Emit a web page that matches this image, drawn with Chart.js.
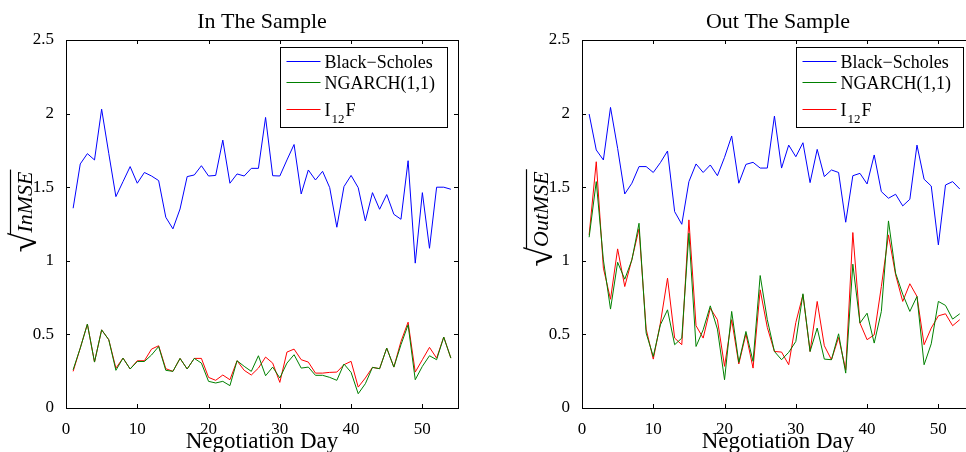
<!DOCTYPE html>
<html>
<head>
<meta charset="utf-8">
<script src="https://cdn.jsdelivr.net/npm/chart.js@4.4.1/dist/chart.umd.min.js"></script>
<style>
  html, body { margin: 0; padding: 0; background: #fff; }
  body { width: 966px; height: 452px; overflow: hidden; position: relative; }
  .panel { position: absolute; top: 0; width: 483px; height: 452px; }
</style>
</head>
<body>
<div class="panel" style="left:0"><canvas id="inChart" width="483" height="452"></canvas></div>
<div class="panel" style="left:516px"><canvas id="outChart" width="483" height="452"></canvas></div>
<script>
// negotiation days
const inDays = [1, 2, 3, 4, 5, 6, 7, 8, 9, 10, 11, 12, 13, 14, 15, 16, 17, 18, 19, 20,
    21, 22, 23, 24, 25, 26, 27, 28, 29, 30, 31, 32, 33, 34, 35, 36, 37, 38, 39, 40,
    41, 42, 43, 44, 45, 46, 47, 48, 49, 50, 51, 52, 53, 54];
const outDays = [1, 2, 3, 4, 5, 6, 7, 8, 9, 10, 11, 12, 13, 14, 15, 16, 17, 18, 19, 20,
    21, 22, 23, 24, 25, 26, 27, 28, 29, 30, 31, 32, 33, 34, 35, 36, 37, 38, 39, 40,
    41, 42, 43, 44, 45, 46, 47, 48, 49, 50, 51, 52, 53];

// In the sample
const inBlackScholes = [1.357, 1.658, 1.728, 1.685, 2.03, 1.73, 1.436, 1.538, 1.64, 1.527,
    1.6, 1.576, 1.545, 1.296, 1.217, 1.352, 1.572, 1.583, 1.646, 1.576,
    1.58, 1.82, 1.527, 1.59, 1.576, 1.628, 1.628, 1.974, 1.578, 1.576,
    1.685, 1.79, 1.454, 1.617, 1.549, 1.608, 1.497, 1.228, 1.504, 1.58,
    1.497, 1.271, 1.463, 1.35, 1.45, 1.316, 1.282, 1.68, 0.984, 1.463,
    1.085, 1.5, 1.5, 1.486];
const inNgarch = [0.26, 0.407, 0.57, 0.312, 0.531, 0.464, 0.256, 0.339, 0.265, 0.316,
    0.316, 0.36, 0.418, 0.256, 0.249, 0.337, 0.265, 0.337, 0.305, 0.181,
    0.17, 0.181, 0.152, 0.321, 0.283, 0.249, 0.355, 0.219, 0.278, 0.204,
    0.305, 0.362, 0.271, 0.278, 0.222, 0.222, 0.208, 0.188, 0.299, 0.242,
    0.097, 0.165, 0.276, 0.267, 0.407, 0.278, 0.43, 0.565, 0.192, 0.283,
    0.355, 0.328, 0.482, 0.339];
const inI12F = [0.249, 0.407, 0.57, 0.312, 0.531, 0.464, 0.271, 0.339, 0.265, 0.321,
    0.321, 0.40, 0.423, 0.267, 0.249, 0.337, 0.265, 0.337, 0.337, 0.208,
    0.188, 0.224, 0.192, 0.321, 0.256, 0.224, 0.271, 0.346, 0.305, 0.174,
    0.38, 0.40, 0.328, 0.312, 0.237, 0.237, 0.242, 0.244, 0.294, 0.317,
    0.142, 0.204, 0.276, 0.267, 0.407, 0.278, 0.452, 0.583, 0.244, 0.328,
    0.412, 0.339, 0.482, 0.339];

// Out the sample
const outBlackScholes = [1.997, 1.753, 1.685, 2.042, 1.764, 1.454, 1.527, 1.64, 1.64, 1.6,
    1.667, 1.746, 1.334, 1.248, 1.538, 1.658, 1.6, 1.651, 1.578, 1.703,
    1.848, 1.527, 1.655, 1.669, 1.63, 1.63, 1.983, 1.63, 1.786, 1.707,
    1.802, 1.531, 1.757, 1.572, 1.617, 1.6, 1.262, 1.578, 1.594, 1.522,
    1.719, 1.47, 1.425, 1.452, 1.373, 1.418, 1.786, 1.554, 1.508, 1.108,
    1.515, 1.538, 1.488];
const outNgarch = [1.16, 1.538, 1.006, 0.672, 0.99, 0.875, 1.006, 1.255, 0.509, 0.35,
    0.565, 0.667, 0.43, 0.475, 1.187, 0.418, 0.531, 0.694, 0.536, 0.192,
    0.656, 0.31, 0.52, 0.317, 0.9, 0.6, 0.384, 0.328, 0.378, 0.452,
    0.776, 0.384, 0.543, 0.332, 0.328, 0.504, 0.237, 0.977, 0.577, 0.644,
    0.441, 0.656, 1.271, 0.916, 0.773, 0.656, 0.758, 0.294, 0.436, 0.724,
    0.697, 0.604, 0.64];
const outI12F = [1.176, 1.673, 0.95, 0.739, 1.081, 0.825, 1.01, 1.217, 0.536, 0.332,
    0.577, 0.882, 0.475, 0.43, 1.278, 0.559, 0.475, 0.678, 0.6, 0.283,
    0.6, 0.299, 0.503, 0.271, 0.803, 0.547, 0.384, 0.38, 0.294, 0.581,
    0.769, 0.384, 0.724, 0.423, 0.328, 0.479, 0.26, 1.192, 0.577, 0.464,
    0.497, 0.825, 1.176, 0.905, 0.724, 0.844, 0.758, 0.43, 0.543, 0.626,
    0.64, 0.559, 0.6];

const xTicks = [0, 10, 20, 30, 40, 50];
const yTicks = [0, 0.5, 1, 1.5, 2, 2.5];
const seriesNames = ['Black\u2212Scholes', 'NGARCH(1,1)', 'I12F'];
const seriesColors = ['#0000ff', '#008000', '#ff0000'];

const SERIF = "'Liberation Serif', 'Times New Roman', serif";
Chart.defaults.font.family = SERIF;
Chart.defaults.color = '#000';

// draws the matlab-like box, inward ticks, title, axis labels and legend
const matlabFrame = {
    id: 'matlabFrame',
    afterDraw(chart, args, opts) {
        const ctx = chart.ctx;
        const a = chart.chartArea;
        const xs = chart.scales.x, ys = chart.scales.y;
        ctx.save();
        ctx.strokeStyle = '#000';
        ctx.lineWidth = 1;
        ctx.strokeRect(Math.round(a.left) + 0.5, Math.round(a.top) + 0.5,
            Math.round(a.right - a.left), Math.round(a.bottom - a.top));

        // inward ticks on all sides
        ctx.beginPath();
        xTicks.forEach(v => {
            const px = Math.round(xs.getPixelForValue(v)) + 0.5;
            ctx.moveTo(px, a.bottom); ctx.lineTo(px, a.bottom - 4);
            ctx.moveTo(px, a.top); ctx.lineTo(px, a.top + 4);
        });
        yTicks.forEach(v => {
            const py = Math.round(ys.getPixelForValue(v)) + 0.5;
            ctx.moveTo(a.left, py); ctx.lineTo(a.left + 4, py);
            ctx.moveTo(a.right, py); ctx.lineTo(a.right - 4, py);
        });
        ctx.stroke();

        const cx = (a.left + a.right) / 2;
        ctx.fillStyle = '#000';
        ctx.textAlign = 'center';
        ctx.textBaseline = 'alphabetic';
        ctx.font = '22px ' + SERIF;
        ctx.fillText(opts.title, cx, 28);
        ctx.font = '23px ' + SERIF;
        ctx.fillText('Negotiation Day', cx, 448);

        // y label: sqrt over italic text
        ctx.save();
        ctx.translate(opts.ylabelX, opts.ylabelY);
        ctx.rotate(-Math.PI / 2);
        ctx.font = 'italic 22px ' + SERIF;
        const tw = ctx.measureText(opts.ylabel).width;
        ctx.font = '36px ' + SERIF;
        const rw = ctx.measureText('\u221A').width;
        const start = -(tw + rw) / 2;
        ctx.textAlign = 'left';
        ctx.fillText('\u221A', start, 4);
        ctx.font = 'italic 22px ' + SERIF;
        ctx.fillText(opts.ylabel, start + rw, 0);
        ctx.beginPath();
        ctx.lineWidth = 1.2;
        ctx.moveTo(start + rw - 2, -21.5);
        ctx.lineTo(start + rw + tw + 2, -21.5);
        ctx.stroke();
        ctx.restore();

        // legend
        const bx = Math.round(a.right - 178) + 0.5, by = 47.5, bw = 167, bh = 80;
        ctx.fillStyle = '#fff';
        ctx.fillRect(bx, by, bw, bh);
        ctx.strokeStyle = '#000';
        ctx.lineWidth = 1;
        ctx.strokeRect(bx, by, bw, bh);
        const lineY = [61.5, 82.5, 109.5];
        const textY = [67.5, 88.5, 116];
        ctx.textAlign = 'left';
        seriesNames.forEach((name, i) => {
            ctx.strokeStyle = seriesColors[i];
            ctx.beginPath();
            ctx.moveTo(bx + 6, lineY[i]);
            ctx.lineTo(bx + 40, lineY[i]);
            ctx.stroke();
            ctx.fillStyle = '#000';
            ctx.font = '18px ' + SERIF;
            const tx = bx + 44;
            if (name === 'I12F') {
                ctx.fillText('I', tx, textY[i]);
                const iw = ctx.measureText('I').width;
                ctx.font = '13px ' + SERIF;
                ctx.fillText('12', tx + iw + 1, textY[i] + 7);
                const sw = ctx.measureText('12').width;
                ctx.font = '18px ' + SERIF;
                ctx.fillText('F', tx + iw + sw + 2, textY[i]);
            } else {
                ctx.fillText(name, tx, textY[i]);
            }
        });
        ctx.restore();
    }
};

function makeChart(canvasId, days, series, title, ylabel, ylabelX, ylabelY) {
    const ctx = document.getElementById(canvasId).getContext('2d');
    return new Chart(ctx, {
        type: 'line',
        data: {
            datasets: series.map((s, i) => ({
                label: seriesNames[i],
                data: days.map((d, j) => ({ x: d, y: s[j] })),
                borderColor: seriesColors[i],
                borderWidth: 1,
                pointRadius: 0,
                tension: 0,
                fill: false
            }))
        },
        options: {
            responsive: false,
            animation: false,
            layout: { padding: { top: 40, right: 25, left: 0, bottom: 0 } },
            plugins: {
                legend: { display: false },
                tooltip: { enabled: false },
                matlabFrame: { title: title, ylabel: ylabel, ylabelX: ylabelX, ylabelY: ylabelY }
            },
            scales: {
                x: {
                    type: 'linear',
                    min: 0,
                    max: 55,
                    grid: { display: false },
                    border: { display: false },
                    afterBuildTicks: s => { s.ticks = xTicks.map(v => ({ value: v })); },
                    afterFit: s => { s.height = 44; },
                    ticks: {
                        font: { size: 17 },
                        color: '#000',
                        padding: 3,
                        maxRotation: 0,
                        callback: v => String(v)
                    }
                },
                y: {
                    min: 0,
                    max: 2.5,
                    grid: { display: false },
                    border: { display: false },
                    afterBuildTicks: s => { s.ticks = yTicks.map(v => ({ value: v })); },
                    afterFit: s => { s.width = 66; },
                    ticks: {
                        font: { size: 17 },
                        color: '#000',
                        padding: 4,
                        callback: v => String(v)
                    }
                }
            }
        },
        plugins: [matlabFrame]
    });
}

makeChart('inChart', inDays, [inBlackScholes, inNgarch, inI12F],
    'In The Sample', 'InMSE', 32, 212);
makeChart('outChart', outDays, [outBlackScholes, outNgarch, outI12F],
    'Out The Sample', 'OutMSE', 32, 219);
</script>
</body>
</html>
